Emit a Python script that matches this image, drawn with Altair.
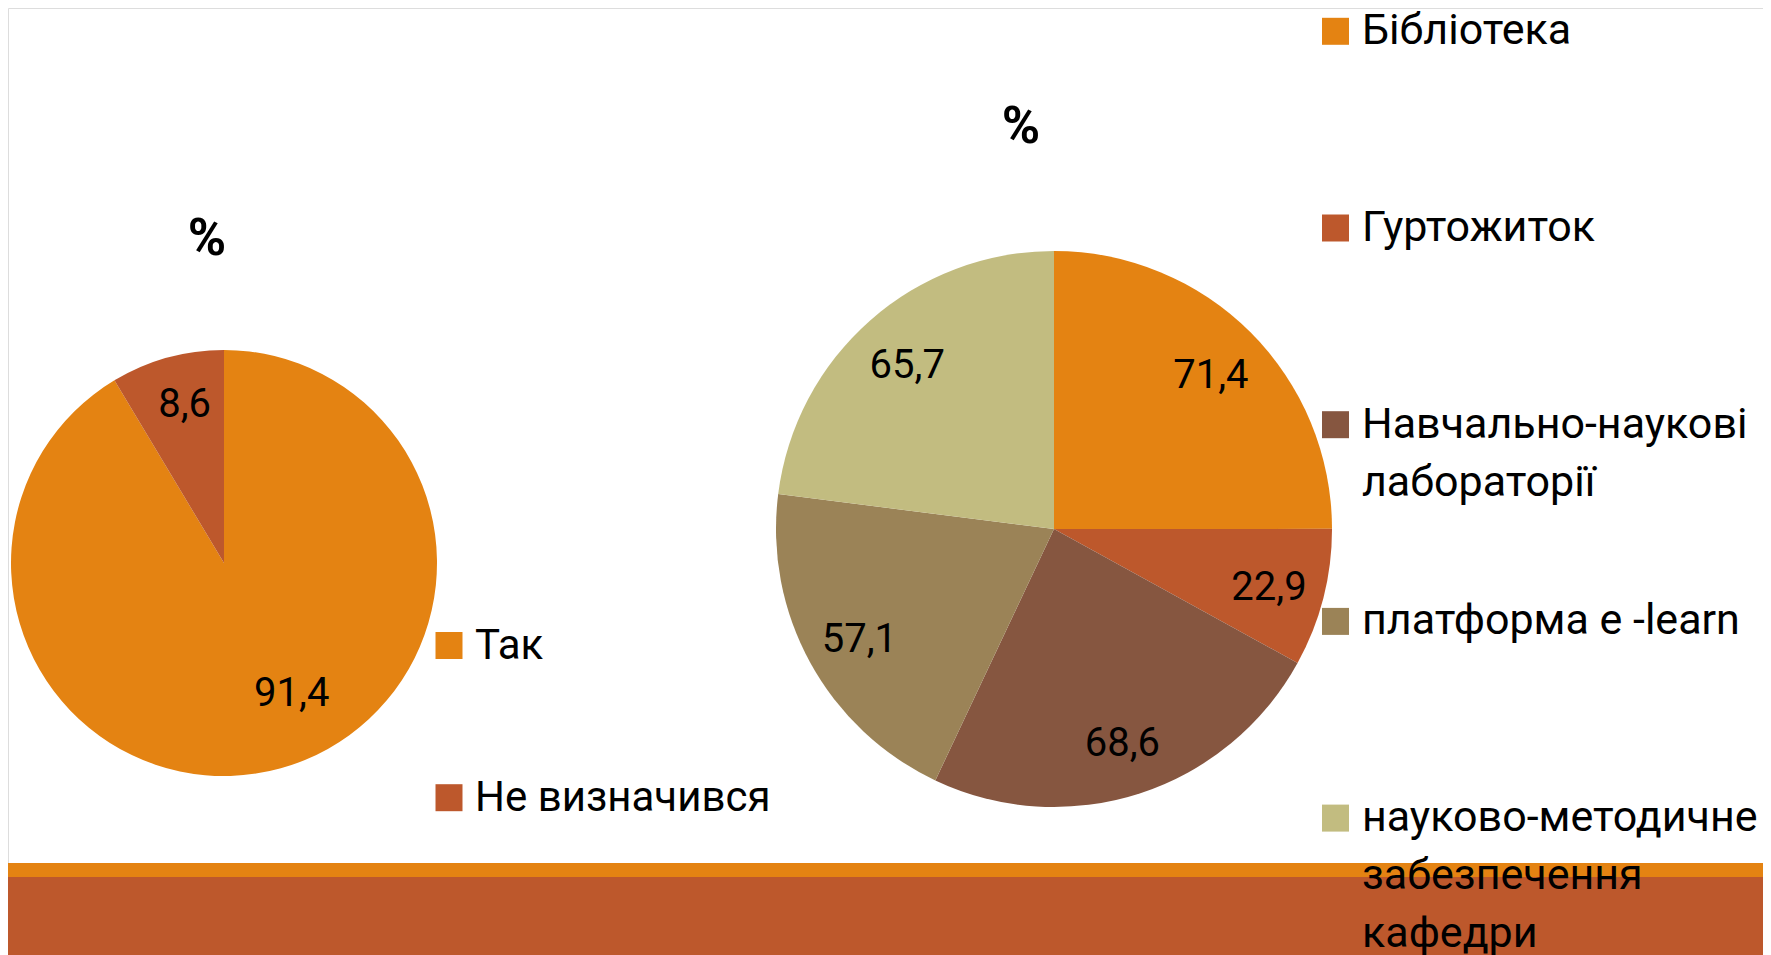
import altair as alt
import pandas as pd

# ---- data ----
left_cats = ["Так", "Не визначився"]
left_vals = [91.4, 8.6]

right_cats = [
    "Бібліотека",
    "Гуртожиток",
    "Навчально-наукові лабораторії",
    "платформа e -learn",
    "науково-методичне забезпечення кафедри",
]
right_vals = [71.4, 22.9, 68.6, 57.1, 65.7]

left_colors = ["#E48312", "#BD582C"]
right_colors = ["#E48312", "#BD582C", "#865640", "#9B8357", "#C2BC80"]

pie_titles = ["%", "%"]
band_names = ["thin", "wide"]
band_colors = ["#E48312", "#BD582C"]


def fmt(v):
    return f"{v:.1f}".replace(".", ",")


left_df = pd.DataFrame({
    "cat": left_cats,
    "value": left_vals,
    "idx": list(range(len(left_cats))),
    "label": [fmt(v) for v in left_vals],
})
right_df = pd.DataFrame({
    "cat": right_cats,
    "value": right_vals,
    "idx": list(range(len(right_cats))),
    "label": [fmt(v) for v in right_vals],
})
title_df = pd.DataFrame({"t": pie_titles, "pie": ["left", "right"]})
band_df = pd.DataFrame({"band": band_names, "color": band_colors})

FONT = "Roboto"
W, H = 1755, 947

legend_common = dict(
    orient="none",
    direction="vertical",
    title=None,
    symbolType="square",
    symbolSize=729,
    symbolStrokeWidth=0,
    labelFont=FONT,
    labelColor="black",
    labelLimit=900,
    labelOffset=5,
    padding=0,
    gridAlign="all",
)

# ---- left pie ----
left_base = alt.Chart(left_df).encode(
    theta=alt.Theta("value:Q", stack=True),
    order=alt.Order("idx:Q"),
    x=alt.value(216),
    y=alt.value(555),
)
left_arc = left_base.mark_arc(radius=213).encode(
    color=alt.Color(
        "cat:N",
        scale=alt.Scale(domain=left_cats, range=left_colors),
        legend=alt.Legend(legendX=420, legendY=616.5, rowPadding=110.2,
                          labelFontSize=42, **legend_common),
    )
)
left_text = left_base.mark_text(
    radius=alt.expr("datum.value > 50 ? 145 : 166"),
    dx=alt.expr("datum.value > 50 ? 29 : 5"),
    dy=alt.expr("datum.value > 50 ? -9 : 2"),
    font=FONT, fontSize=40, color="black",
).encode(text="label:N")
left_layer = alt.layer(left_arc, left_text)

# ---- right pie ----
right_base = alt.Chart(right_df).encode(
    theta=alt.Theta("value:Q", stack=True),
    order=alt.Order("idx:Q"),
    x=alt.value(1046),
    y=alt.value(521),
)
right_arc = right_base.mark_arc(radius=278).encode(
    color=alt.Color(
        "cat:N",
        scale=alt.Scale(domain=right_cats, range=right_colors),
        legend=alt.Legend(
            legendX=1306, legendY=1.8, rowPadding=36.7, labelFontSize=43,
            labelExpr="split(replace(datum.label, regexp(' (?=[а-яіїє])', 'g'), '|'), '|')",
            **legend_common,
        ),
    )
)
right_text = right_base.mark_text(
    radius=222, dy=4, font=FONT, fontSize=40, color="black"
).encode(text="label:N")
right_layer = alt.layer(right_arc, right_text)

# ---- titles ----
title_left = alt.Chart(title_df).transform_filter("datum.pie == 'left'").mark_text(
    font=FONT, fontSize=52, fontWeight="bold", color="black"
).encode(text="t:N", x=alt.value(199), y=alt.value(231))
title_right = alt.Chart(title_df).transform_filter("datum.pie == 'right'").mark_text(
    font=FONT, fontSize=52, fontWeight="bold", color="black"
).encode(text="t:N", x=alt.value(1013), y=alt.value(119))

# ---- decorative bands ----
band_thin = alt.Chart(band_df).transform_filter("datum.band == 'thin'").mark_rect(
    color=band_colors[0]
).encode(x=alt.value(0), x2=alt.value(W), y=alt.value(855), y2=alt.value(869))
band_wide = alt.Chart(band_df).transform_filter("datum.band == 'wide'").mark_rect(
    color=band_colors[1]
).encode(x=alt.value(0), x2=alt.value(W), y=alt.value(869), y2=alt.value(H))

chart = (
    alt.layer(band_thin, band_wide, left_layer, right_layer, title_left, title_right)
    .resolve_scale(theta="independent", color="independent")
    .properties(width=W, height=H, padding=0,
                autosize=alt.AutoSizeParams(type="none"))
    .configure_view(stroke="transparent", strokeWidth=0)
    .configure(font=FONT, style={"guide-label": {"lineHeight": 58}})
)

chart.save("out.html", embed_options={"renderer": "svg", "actions": False})
